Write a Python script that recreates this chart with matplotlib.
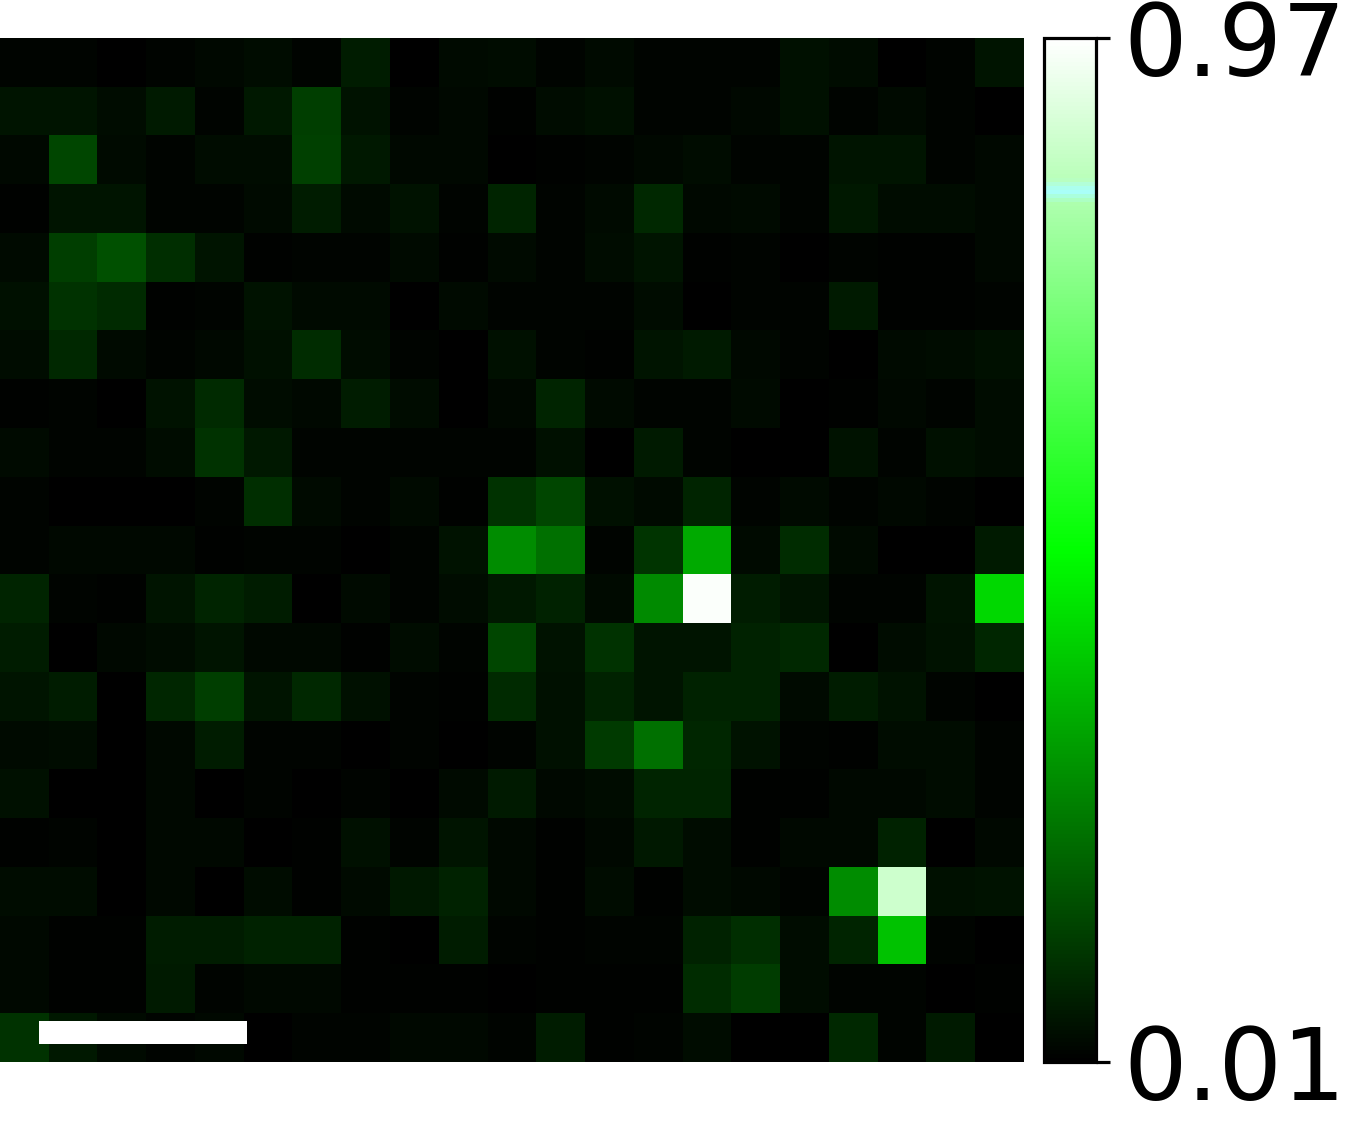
import matplotlib
matplotlib.use("Agg")
import matplotlib.pyplot as plt
from matplotlib.colors import LinearSegmentedColormap, Normalize
from matplotlib.cm import ScalarMappable
from matplotlib.patches import Rectangle

vmin = 0.01
vmax = 0.97
tick_values = [0.01, 0.97]
tick_labels = ["0.01", "0.97"]

row_00 = [.021,.021,.010,.019,.025,.036,.021,.063,.010,.029,.033,.018,.029,.021,.021,.021,.040,.036,.010,.019,.048]
row_01 = [.048,.048,.036,.059,.021,.055,.127,.044,.019,.025,.014,.033,.040,.021,.018,.025,.040,.018,.029,.021,.010]
row_02 = [.025,.142,.029,.019,.033,.033,.131,.055,.025,.025,.010,.014,.019,.025,.033,.021,.019,.051,.048,.021,.025]
row_03 = [.014,.048,.051,.019,.021,.029,.066,.029,.044,.021,.078,.021,.029,.085,.025,.029,.019,.055,.036,.033,.025]
row_04 = [.029,.127,.161,.097,.051,.014,.021,.018,.029,.014,.029,.021,.036,.051,.016,.021,.010,.021,.016,.014,.025]
row_05 = [.040,.104,.089,.014,.018,.044,.029,.029,.010,.029,.018,.018,.018,.033,.010,.018,.021,.059,.014,.014,.021]
row_06 = [.036,.085,.029,.018,.025,.040,.093,.036,.019,.012,.040,.018,.014,.051,.059,.025,.019,.012,.029,.036,.040]
row_07 = [.014,.018,.010,.044,.089,.033,.025,.063,.033,.012,.025,.078,.029,.021,.018,.029,.010,.014,.025,.019,.036]
row_08 = [.029,.019,.019,.033,.104,.055,.021,.021,.021,.021,.019,.040,.010,.059,.018,.010,.010,.044,.021,.040,.036]
row_09 = [.021,.012,.012,.012,.018,.097,.029,.021,.029,.016,.104,.142,.040,.029,.078,.018,.029,.021,.025,.021,.010]
row_10 = [.021,.025,.025,.025,.014,.018,.018,.010,.018,.044,.274,.221,.018,.108,.330,.029,.093,.029,.010,.010,.059]
row_11 = [.078,.021,.014,.048,.078,.066,.010,.029,.018,.033,.055,.074,.029,.270,.962,.063,.048,.021,.021,.048,.415]
row_12 = [.066,.010,.025,.033,.048,.025,.025,.016,.033,.018,.142,.044,.104,.051,.051,.074,.085,.010,.033,.044,.082]
row_13 = [.048,.066,.010,.082,.127,.051,.085,.040,.019,.014,.089,.040,.074,.048,.074,.074,.029,.066,.044,.021,.010]
row_14 = [.029,.033,.010,.025,.066,.018,.019,.010,.019,.010,.018,.040,.119,.221,.082,.044,.019,.014,.033,.036,.021]
row_15 = [.040,.010,.010,.025,.012,.018,.012,.019,.012,.029,.059,.025,.033,.078,.078,.016,.016,.025,.025,.036,.018]
row_16 = [.014,.018,.010,.025,.025,.010,.016,.040,.018,.048,.025,.014,.025,.055,.036,.014,.025,.025,.074,.010,.025]
row_17 = [.033,.036,.012,.025,.012,.036,.014,.029,.055,.074,.025,.014,.033,.016,.036,.025,.018,.274,.874,.040,.044]
row_18 = [.025,.014,.016,.066,.066,.074,.074,.014,.012,.063,.021,.014,.021,.019,.074,.097,.033,.078,.377,.021,.012]
row_19 = [.025,.014,.016,.059,.021,.025,.025,.014,.014,.016,.010,.016,.016,.014,.093,.123,.036,.018,.018,.012,.014]
row_20 = [.104,.055,.029,.021,.025,.010,.021,.019,.025,.025,.019,.063,.014,.021,.036,.010,.010,.085,.021,.059,.012]

grid = [row_00, row_01, row_02, row_03, row_04, row_05, row_06, row_07, row_08, row_09, row_10,
        row_11, row_12, row_13, row_14, row_15, row_16, row_17, row_18, row_19, row_20]

cmap = LinearSegmentedColormap.from_list(
    "green_stripe",
    [(0.0, (0, 0, 0)), (0.5, (0, 1, 0)), (0.84, (0.68, 1, 0.68)),
     (0.852, (0.66, 1, 1)), (0.864, (0.728, 1, 0.728)), (1.0, (1, 1, 1))],
    N=256,
)
norm = Normalize(vmin, vmax)

W, H = 1347, 1121
fig = plt.figure(figsize=(W / 100, H / 100), dpi=100)
plt.rcParams["font.family"] = "DejaVu Sans"

ax = fig.add_axes([0, (H - 1062) / H, 1024 / W, 1024 / H])
ax.imshow(grid, cmap=cmap, norm=norm, interpolation="nearest", aspect="auto")
ax.axis("off")
ax.add_patch(Rectangle((0.3, 19.65), 4.27, 0.49, facecolor="white", edgecolor="none"))

cax = fig.add_axes([1044.3 / W, (H - 1062) / H, 52 / W, 1024 / H])
cb = fig.colorbar(ScalarMappable(norm=norm, cmap=cmap), cax=cax)
cb.set_ticks(tick_values)
cb.set_ticklabels(tick_labels)
cb.ax.tick_params(labelsize=72, length=10, width=2.3, pad=9.2, color="black")
cb.outline.set_linewidth(2.3)
cb.outline.set_edgecolor("black")

fig.savefig("out.png", dpi=100)
